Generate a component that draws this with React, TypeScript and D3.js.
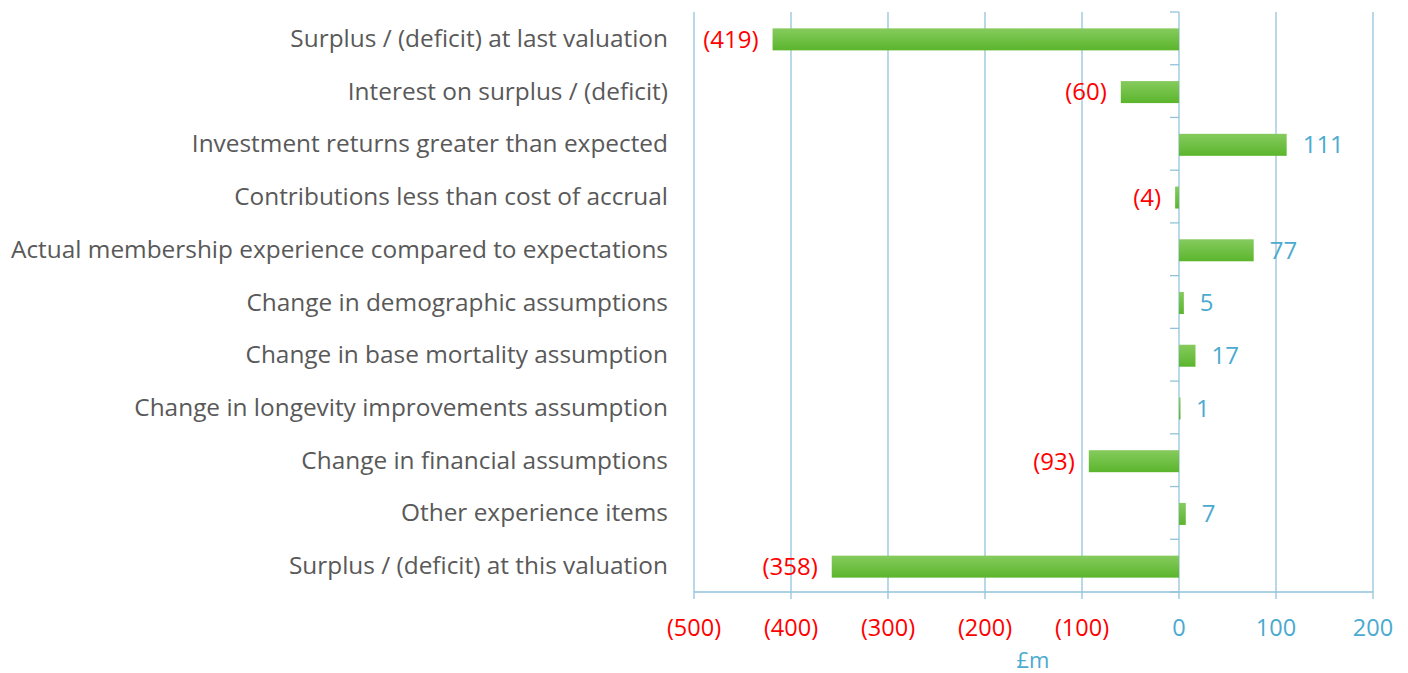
import React, { useEffect, useRef } from 'react';
import * as d3 from 'd3';

const categories: string[] = [
  'Surplus / (deficit) at last valuation',
  'Interest on surplus / (deficit)',
  'Investment returns greater than expected',
  'Contributions less than cost of accrual',
  'Actual membership experience compared to expectations',
  'Change in demographic assumptions',
  'Change in base mortality assumption',
  'Change in longevity improvements assumption',
  'Change in financial assumptions',
  'Other experience items',
  'Surplus / (deficit) at this valuation',
];

const values: number[] = [-419, -60, 111, -4, 77, 5, 17, 1, -93, 7, -358];

const xTicks: number[] = [-500, -400, -300, -200, -100, 0, 100, 200];

const WIDTH = 1408;
const HEIGHT = 673;
const FONT = '"Open Sans", "DejaVu Sans", sans-serif';
const RED = '#ff0000';
const BLUE = '#4aaacf';
const GRID = '#93c3dc';

const fmt = (v: number) => (v < 0 ? `(${Math.abs(v)})` : `${v}`);

export default function App() {
  const svgRef = useRef<SVGSVGElement | null>(null);

  useEffect(() => {
    document.body.style.margin = '0';
    if (!svgRef.current) return;
    const svg = d3.select(svgRef.current);
    svg.selectAll('*').remove();

    const left = 694;
    const right = 1373;
    const top = 12;
    const bottom = 592;

    const x = d3.scaleLinear().domain([-500, 200]).range([left, right]);
    const y = d3.scaleBand<string>().domain(categories).range([top, bottom]);

    const defs = svg.append('defs');
    const grad = defs
      .append('linearGradient')
      .attr('id', 'barGrad')
      .attr('x1', 0)
      .attr('y1', 0)
      .attr('x2', 0)
      .attr('y2', 1);
    grad.append('stop').attr('offset', '0%').attr('stop-color', '#86cb5e');
    grad.append('stop').attr('offset', '100%').attr('stop-color', '#5bb52c');

    // gridlines
    svg
      .append('g')
      .selectAll('line')
      .data(xTicks)
      .enter()
      .append('line')
      .attr('x1', (d) => x(d))
      .attr('x2', (d) => x(d))
      .attr('y1', top)
      .attr('y2', bottom + 7)
      .attr('stroke', GRID)
      .attr('stroke-width', 1.3);

    // bottom axis line
    svg
      .append('line')
      .attr('x1', left)
      .attr('x2', right)
      .attr('y1', bottom)
      .attr('y2', bottom)
      .attr('stroke', GRID)
      .attr('stroke-width', 1.3);

    // category tick marks on zero axis
    const bounds = d3.range(categories.length + 1).map((i) => top + i * y.step());
    svg
      .append('g')
      .selectAll('line')
      .data(bounds)
      .enter()
      .append('line')
      .attr('x1', x(0) - 9)
      .attr('x2', x(0))
      .attr('y1', (d) => d)
      .attr('y2', (d) => d)
      .attr('stroke', GRID)
      .attr('stroke-width', 1.3);

    // bars
    const barH = 22;
    svg
      .append('g')
      .selectAll('rect')
      .data(values)
      .enter()
      .append('rect')
      .attr('x', (d) => Math.min(x(0), x(d)))
      .attr('y', (_, i) => (y(categories[i]) || 0) + y.bandwidth() / 2 - barH / 2 + 1)
      .attr('width', (d) => Math.max(1.5, Math.abs(x(d) - x(0))))
      .attr('height', barH)
      .attr('fill', 'url(#barGrad)');

    // category labels
    svg
      .append('g')
      .selectAll('text')
      .data(categories)
      .enter()
      .append('text')
      .attr('x', 668)
      .attr('y', (d) => (y(d) || 0) + y.bandwidth() / 2)
      .attr('dy', '0.35em')
      .attr('text-anchor', 'end')
      .attr('fill', '#595959')
      .style('font-family', FONT)
      .style('font-size', '24.4px')
      .text((d) => d);

    // value labels
    svg
      .append('g')
      .selectAll('text')
      .data(values)
      .enter()
      .append('text')
      .attr('x', (d) => (d < 0 ? x(d) - 14 : x(d) + 16))
      .attr('y', (_, i) => (y(categories[i]) || 0) + y.bandwidth() / 2 + 1)
      .attr('dy', '0.35em')
      .attr('text-anchor', (d) => (d < 0 ? 'end' : 'start'))
      .attr('fill', (d) => (d < 0 ? RED : BLUE))
      .style('font-family', FONT)
      .style('font-size', '24px')
      .text((d) => fmt(d));

    // x tick labels
    svg
      .append('g')
      .selectAll('text')
      .data(xTicks)
      .enter()
      .append('text')
      .attr('x', (d) => x(d))
      .attr('y', 628)
      .attr('dy', '0.35em')
      .attr('text-anchor', 'middle')
      .attr('fill', (d) => (d < 0 ? RED : BLUE))
      .style('font-family', FONT)
      .style('font-size', '23.5px')
      .text((d) => fmt(d));

    // axis title
    svg
      .append('text')
      .attr('x', 1033)
      .attr('y', 660)
      .attr('dy', '0.35em')
      .attr('text-anchor', 'middle')
      .attr('fill', BLUE)
      .style('font-family', FONT)
      .style('font-size', '22px')
      .text('£m');
  }, []);

  return <svg ref={svgRef} width={WIDTH} height={HEIGHT} style={{ display: 'block' }} />;
}
